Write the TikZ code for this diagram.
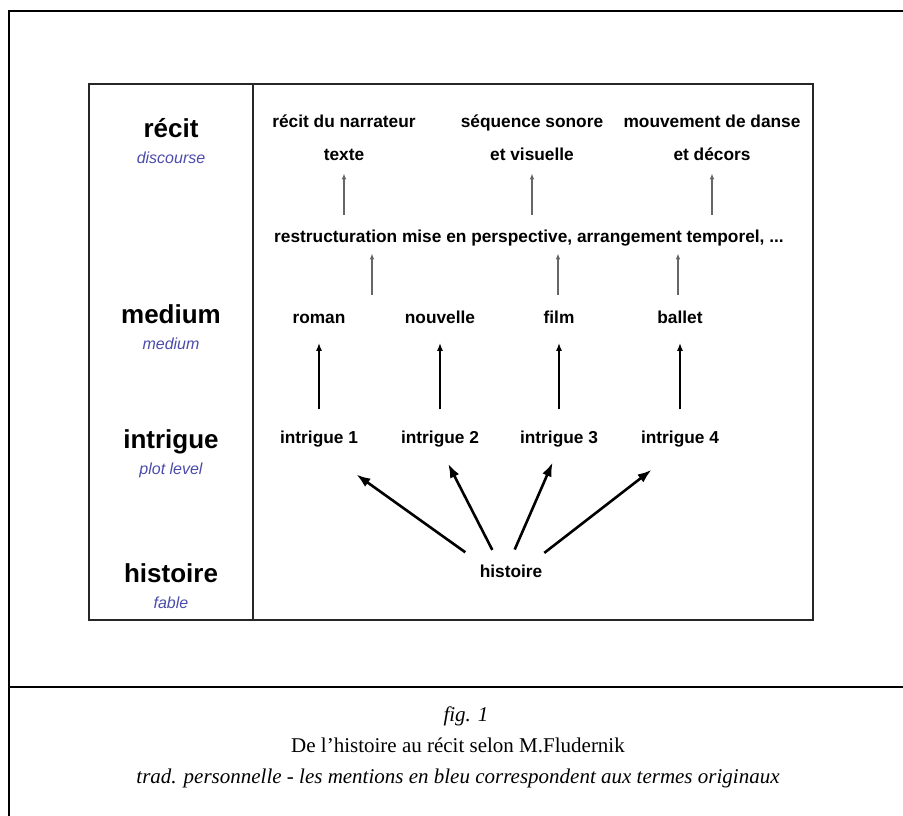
\documentclass[tikz,border=0pt]{standalone}
\usepackage{fontspec}
\setmainfont{Liberation Serif}
\setsansfont{Liberation Sans}
\usetikzlibrary{arrows.meta}
\definecolor{termblue}{RGB}{75,75,170}

\begin{document}
\begin{tikzpicture}[x=1pt,y=-1pt,
  rowname/.style={font=\sffamily\bfseries\fontsize{26}{30}\selectfont,anchor=base},
  term/.style={font=\sffamily\itshape\fontsize{16}{19}\selectfont,text=termblue,anchor=base},
  entry/.style={font=\sffamily\bfseries\fontsize{17.3}{20}\selectfont,anchor=base,inner sep=1pt,text height=12.5pt,text depth=3.6pt},
  caption/.style={anchor=base,font=\fontsize{21}{25}\selectfont},
  captionit/.style={anchor=base,font=\fontsize{21}{25}\selectfont\itshape},
  thinarrow/.style={-{Latex[length=6pt,width=4.5pt]},black!60,line width=1.1pt},
  midarrow/.style={-{Latex[length=8pt,width=6pt]},line width=1.6pt},
  bigarrow/.style={-{Latex[length=14pt,width=10pt]},line width=2.6pt}]
\useasboundingbox (0,0) rectangle (903,816);
% frame and caption
\draw[line width=2.5pt] (903,11) -- (9,11) -- (9,816);
\draw[line width=2.5pt] (9,687) -- (903,687);
\node (fig)[captionit] at (466,721) {fig. 1};
\node (title)[caption] at (458,752) {De l’histoire au récit selon M.Fludernik};
\node (note)[captionit] at (458,783) {trad. personnelle - les mentions en bleu correspondent aux termes originaux};
% table
\draw[line width=2pt,black!85] (89,84) rectangle (813,620);
\draw[line width=2pt,black!85] (253,84) -- (253,620);
\foreach \name/\y/\txt/\en in {recit/137/récit/discourse,medium/323/medium/medium,intrigue/448/intrigue/plot level,histoire/582/histoire/fable}
{\node (\name)[rowname] at (171,\y) {\txt};
 \node (\name en)[term] at (171,\y+26) {\en};}
% niveau recit
\node (narr)[entry] at (344,128) {récit du narrateur};
\node (texte)[entry] at (344,160) {texte};
\node (seq)[entry] at (532,128) {séquence sonore};
\node (visuelle)[entry] at (532,160) {et visuelle};
\node (danse)[entry] at (712,128) {mouvement de danse};
\node (decors)[entry] at (712,160) {et décors};
\node (restr)[entry] at (529,242) {restructuration mise en perspective, arrangement temporel, ...};
% medium et intrigues
\foreach \i/\x/\med in {1/319/roman,2/440/nouvelle,3/559/film,4/680/ballet}
{\node (\med)[entry] at (\x,323) {\med};
 \node (i\i)[entry] at (\x,443) {intrigue \i};}
\node (hist)[entry] at (511,577) {histoire};
% fleches
\foreach \to in {texte,visuelle,decors}
\draw[thinarrow,shorten <=13.5pt,shorten >=8.5pt] (restr.north -| \to) -- (\to.south);
\foreach \x/\from in {372/roman,558/film,678/ballet}
\draw[thinarrow,shorten <=14.5pt,shorten >=6.5pt] (\from.north -| \x,0) -- (restr.south -| \x,0);
\foreach \i/\med in {1/roman,2/nouvelle,3/film,4/ballet}
\draw[midarrow,shorten <=20pt,shorten >=15pt] (i\i.north) -- (\med.south);
\foreach \a/\to/\s/\e in {163/i1/19/46,142/i2/15/18,104/i3/15/16,25/i4/17/36}
\draw[bigarrow,shorten <=\s pt,shorten >=\e pt] (hist.\a) -- (\to.south);
\end{tikzpicture}
\end{document}
